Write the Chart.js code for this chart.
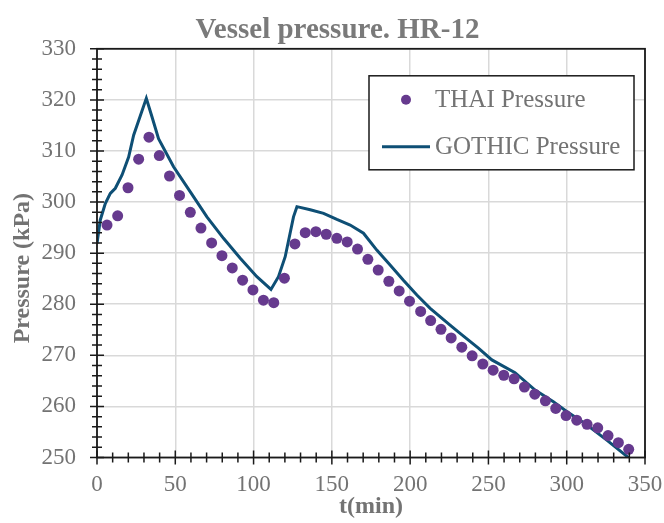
<!DOCTYPE html>
<html>
<head>
<meta charset="utf-8">
<script src="https://cdn.jsdelivr.net/npm/chart.js@4"></script>
<style>
  html, body { margin: 0; padding: 0; background: #fff; }
  #wrap { width: 664px; height: 523px; }
</style>
</head>
<body>
<div id="wrap"><canvas id="pressure-chart"></canvas></div>
<script>
// Vessel pressure HR-12 - THAI measurements vs GOTHIC simulation

const thaiTime = [6.4, 13.2, 19.8, 26.6, 33.2, 39.8, 46.3, 52.7, 59.6, 66.4, 73.2, 79.8, 86.4, 93.0, 99.6,
    106.3, 112.9, 119.7, 126.4, 133.0, 139.8, 146.4, 153.2, 159.8, 166.4, 173.0, 179.6, 186.4, 193.0, 199.6,
    206.7, 213.1, 219.7, 226.2, 233.0, 239.6, 246.4, 253.0, 259.8, 266.4, 273.0, 279.6, 286.4, 293.0, 299.6,
    306.4, 313.0, 319.8, 326.4, 333.0, 339.6];
const thaiPressure = [295.5, 297.3, 302.8, 308.4, 312.7, 309.1, 305.1, 301.3, 298.0, 294.9, 292.0, 289.5, 287.1, 284.7, 282.8,
    280.8, 280.3, 285.1, 291.8, 294.0, 294.2, 293.7, 292.9, 292.2, 290.8, 288.8, 286.7, 284.5, 282.6, 280.6,
    278.6, 276.8, 275.1, 273.4, 271.6, 269.9, 268.3, 267.1, 266.1, 265.4, 263.8, 262.4, 261.1, 259.6, 258.2,
    257.3, 256.5, 255.8, 254.3, 252.9, 251.6];

const gothicTime = [0, 2.1, 5.3, 8.5, 11.7, 16.0, 20.2, 23.4, 31.5, 35.1, 39.3, 48.9, 59.6, 70.2, 80.8, 91.5,
    102.1, 111.1, 115.9, 120.2, 125.5, 127.7, 136.2, 144.7, 153.2, 161.7, 170.2, 178.7, 187.2, 195.7, 204.3,
    212.8, 225.5, 231.9, 243.6, 252.2, 267.0, 279.8, 291.5, 300.0, 312.8, 325.6, 341.0];
const gothicPressure = [291.9, 296.5, 299.7, 301.7, 302.7, 305.3, 308.8, 313.1, 320.3, 316.7, 312.4, 306.9, 302.0, 297.1, 292.9, 289.0,
    285.4, 282.9, 285.4, 289.3, 297.1, 299.1, 298.5, 297.8, 296.6, 295.5, 293.9, 290.6, 287.7, 284.7, 281.8,
    279.2, 275.9, 274.3, 271.4, 269.1, 266.6, 263.2, 260.9, 259.0, 256.4, 253.4, 249.6];

const seriesNames = ['THAI Pressure', 'GOTHIC Pressure'];
const xTicks = { min: 0, max: 350, major: 50, minor: 10 };
const yTicks = { min: 250, max: 330, major: 10, minor: 2 };

const SERIF = "'Liberation Serif', 'Times New Roman', serif";
const TEXT_GREY = '#737373';
const THAI_COLOR = '#663A8E';
const GOTHIC_COLOR = '#0E4F75';

const toPoints = (xs, ys) => xs.map((x, i) => ({ x: x, y: ys[i] }));

// frame + crossing tick marks like the spreadsheet original
const frameTicks = {
    id: 'frameTicks',
    afterDatasetsDraw(chart) {
        const { ctx, chartArea: a, scales } = chart;
        ctx.save();
        ctx.strokeStyle = '#1a1a1a';
        ctx.lineWidth = 1.8;
        ctx.strokeRect(a.left, a.top, a.right - a.left, a.bottom - a.top);
        ctx.lineWidth = 1.5;
        ctx.beginPath();
        for (let v = yTicks.min; v <= yTicks.max + 0.001; v += yTicks.minor) {
            const py = scales.y.getPixelForValue(v);
            const len = (Math.round(v) % yTicks.major === 0) ? 7 : 5;
            ctx.moveTo(a.left - len, py);
            ctx.lineTo(a.left + len, py);
        }
        for (let v = xTicks.min; v <= xTicks.max + 0.001; v += xTicks.minor) {
            const px = scales.x.getPixelForValue(v);
            const len = (Math.round(v) % xTicks.major === 0) ? 7 : 5;
            ctx.moveTo(px, a.bottom - len);
            ctx.lineTo(px, a.bottom + len);
        }
        ctx.stroke();
        ctx.restore();
    }
};

// boxed legend inside the top right of the plot
const boxLegend = {
    id: 'boxLegend',
    afterDraw(chart) {
        const { ctx, chartArea: a } = chart;
        const w = 265, h = 94;
        const left = a.right - 276, top = a.top + 27;
        ctx.save();
        ctx.fillStyle = '#fff';
        ctx.fillRect(left, top, w, h);
        ctx.strokeStyle = '#1a1a1a';
        ctx.lineWidth = 1.5;
        ctx.strokeRect(left, top, w, h);

        const row1 = top + 24, row2 = top + 71;
        ctx.fillStyle = THAI_COLOR;
        ctx.beginPath();
        ctx.arc(left + 37, row1, 5, 0, Math.PI * 2);
        ctx.fill();

        ctx.strokeStyle = GOTHIC_COLOR;
        ctx.lineWidth = 3;
        ctx.beginPath();
        ctx.moveTo(left + 13, row2);
        ctx.lineTo(left + 61, row2);
        ctx.stroke();

        ctx.fillStyle = TEXT_GREY;
        ctx.font = '25px ' + SERIF;
        ctx.textBaseline = 'middle';
        ctx.fillText(seriesNames[0], left + 66, row1 + 1);
        ctx.fillText(seriesNames[1], left + 66, row2 + 1);
        ctx.restore();
    }
};

const ctx = document.getElementById('pressure-chart').getContext('2d');
window.pressureChart = new Chart(ctx, {
    type: 'scatter',
    data: {
        datasets: [{
            label: seriesNames[0],
            data: toPoints(thaiTime, thaiPressure),
            backgroundColor: THAI_COLOR,
            borderColor: THAI_COLOR,
            pointRadius: 5.5,
            pointBorderWidth: 0,
            showLine: false
        }, {
            label: seriesNames[1],
            data: toPoints(gothicTime, gothicPressure),
            borderColor: GOTHIC_COLOR,
            backgroundColor: GOTHIC_COLOR,
            borderWidth: 3,
            pointRadius: 0,
            showLine: true,
            tension: 0
        }]
    },
    options: {
        responsive: true,
        maintainAspectRatio: false,
        animation: false,
        // wide left padding pushes the chart title right, y title pulled back with negative padding
        layout: { padding: { left: 30, right: 19, top: 0, bottom: 0 } },
        plugins: {
            legend: { display: false },
            tooltip: { enabled: false },
            title: {
                display: true,
                text: 'Vessel pressure. HR-12',
                color: '#7a7a7a',
                font: { family: SERIF, size: 29, weight: 'bold' },
                padding: { top: 13, bottom: 1 }
            }
        },
        scales: {
            x: {
                type: 'linear',
                min: xTicks.min,
                max: xTicks.max,
                afterFit: (scale) => {
                    scale.height = 65.5;
                    scale.paddingLeft = 0;
                    scale.paddingRight = 0;
                },
                ticks: {
                    stepSize: xTicks.major,
                    color: TEXT_GREY,
                    font: { family: SERIF, size: 23 },
                    padding: 14,
                    maxRotation: 0
                },
                grid: { color: '#d9d9d9', lineWidth: 1.5, drawTicks: false },
                border: { display: false },
                title: {
                    display: true,
                    text: 't(min)',
                    color: TEXT_GREY,
                    font: { family: SERIF, size: 24, weight: 'bold' },
                    padding: { top: 0, bottom: 2 }
                }
            },
            y: {
                type: 'linear',
                min: yTicks.min,
                max: yTicks.max,
                afterFit: (scale) => { scale.width = 67; },
                ticks: {
                    stepSize: yTicks.major,
                    color: TEXT_GREY,
                    font: { family: SERIF, size: 23 },
                    padding: 21
                },
                grid: { color: '#d9d9d9', lineWidth: 1.5, drawTicks: false },
                border: { display: false },
                title: {
                    display: true,
                    text: 'Pressure (kPa)     ',
                    color: TEXT_GREY,
                    font: { family: SERIF, size: 24, weight: 'bold' },
                    padding: { top: -22, bottom: 0 }
                }
            }
        }
    },
    plugins: [frameTicks, boxLegend]
});
</script>
</body>
</html>
